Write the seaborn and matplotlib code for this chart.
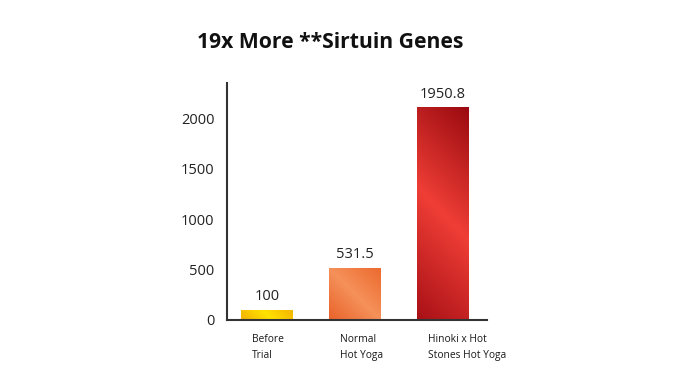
import numpy as np
import pandas as pd
import matplotlib
matplotlib.use("Agg")
import matplotlib.pyplot as plt
from matplotlib.colors import LinearSegmentedColormap
import seaborn as sns

# values
categories = ["Before\nTrial", "Normal\nHot Yoga", "Hinoki x Hot\nStones Hot Yoga"]
bar_heights = [100, 515, 2110]
value_labels = ["100", "531.5", "1950.8"]
y_ticks = [0, 500, 1000, 1500, 2000]

# gradient colours per bar (bottom-left, middle, top-right)
bar_gradients = [
    ["#F2B000", "#FFE200", "#F4B300"],
    ["#E9622A", "#F5915A", "#EC6A2E"],
    ["#A81016", "#EF3E36", "#9A0A10"],
]

sns.set_theme(style="white")
plt.rcParams["font.family"] = ["Open Sans", "DejaVu Sans"]

df = pd.DataFrame({"group": categories, "value": bar_heights})

fig = plt.figure(figsize=(7, 3.69), dpi=100)
ax = fig.add_axes([0.324, 0.133, 0.372, 0.642])

sns.barplot(data=df, x="group", y="value", ax=ax, width=0.59, color="white",
            edgecolor="none")

ax.set_xlim(-0.455, 2.5)
ax.set_ylim(0, 2350)

# fill each bar with a diagonal gradient clipped to its patch
fig.canvas.draw()
for patch, cols in zip(ax.patches, bar_gradients):
    cmap = LinearSegmentedColormap.from_list("g", cols)
    x0, y0 = patch.get_x(), patch.get_y()
    w, h = patch.get_width(), patch.get_height()
    bb = patch.get_window_extent()
    wp, hp = max(bb.width, 1), max(bb.height, 1)
    yy, xx = np.mgrid[0:hp:200j, 0:wp:200j]
    t = (xx + yy) / (wp + hp)
    im = ax.imshow(t, cmap=cmap, extent=[x0, x0 + w, y0, y0 + h],
                   origin="lower", aspect="auto", zorder=2, vmin=0, vmax=1)
    im.set_clip_path(patch)

for i, (h, lab) in enumerate(zip(bar_heights, value_labels)):
    ax.annotate(lab, (i, h), xytext=(0, 4), textcoords="offset points",
                ha="center", va="bottom", fontsize=10.5, color="#222222")

ax.set_yticks(y_ticks)
ax.set_yticklabels([str(t) for t in y_ticks], fontsize=10.5, color="#222222")
ax.tick_params(axis="y", length=0, pad=9)

ax.set_xticks([])
for i, lab in enumerate(categories):
    ax.text(i - 0.17, -0.06, lab, transform=ax.get_xaxis_transform(),
            ha="left", va="top", fontsize=7.4, color="#1a1a1a", linespacing=1.55)

ax.set_xlabel("")
ax.set_ylabel("")
sns.despine(ax=ax)
for side in ["left", "bottom"]:
    ax.spines[side].set_color("#333333")
    ax.spines[side].set_linewidth(1.5)

fig.text(0.471, 0.885, "19x More **Sirtuin Genes", ha="center", va="center",
         fontsize=15.2, fontweight="bold", color="#111111")

fig.savefig("out.png", dpi=100, facecolor="white")
